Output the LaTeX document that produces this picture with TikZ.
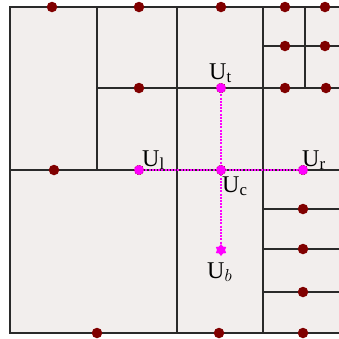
\documentclass[tikz,border=0pt]{standalone}
\usepackage{fontspec}
\setmainfont{Liberation Serif}
\usetikzlibrary{shapes.geometric}
\definecolor{bgc}{HTML}{F2EEED}
\definecolor{dotc}{HTML}{800000}
\definecolor{linec}{HTML}{2A2A2A}
\definecolor{mag}{HTML}{FF00FF}
\tikzset{
  cell/.style={draw=linec, line width=1.1pt},
  pt/.style={circle, fill=dotc, inner sep=0pt, minimum size=10.5pt},
  mpt/.style={circle, fill=mag, draw=dotc, dash pattern=on 1.2pt off 1.8pt, line width=0.35pt, inner sep=0pt, minimum size=10pt},
  star pt/.style={star, star points=6, fill=mag, inner sep=0pt, minimum size=12pt},
  link/.style={mag, dash pattern=on 2pt off 1.2pt, line width=1.3pt},
  lab/.style={font=\fontsize{24}{26}\selectfont, inner sep=0pt}
}
\begin{document}
\begin{tikzpicture}[x=1pt,y=-1pt]
\useasboundingbox (0,0) rectangle (339,338);
\begin{scope}
\clip (0,0) rectangle (339,338);
\fill[bgc] (10,7) rectangle (345,333);
\draw[cell] (10,7) rectangle (345,333);
% vertical lines
\draw[cell] (97,7) -- (97,170);
\draw[cell] (177,7) -- (177,333);
\draw[cell] (263,7) -- (263,333);
\draw[cell] (305,7) -- (305,88);
% horizontal lines
\draw[cell] (97,88) -- (345,88);
\draw[cell] (10,170) -- (345,170);
\draw[cell] (263,46) -- (345,46);
\draw[cell] (263,209) -- (345,209);
\draw[cell] (263,249) -- (345,249);
\draw[cell] (263,292) -- (345,292);
\end{scope}
% dots
\node[pt] (d1) at (52,7) {};
\node[pt] (d2) at (139,7) {};
\node[pt] (d3) at (221,7) {};
\node[pt] (d4) at (285,7) {};
\node[pt] (d5) at (325,7) {};
\node[pt] (d6) at (285,46) {};
\node[pt] (d7) at (325,46) {};
\node[pt] (d8) at (139,88) {};
\node[pt] (d9) at (285,88) {};
\node[pt] (d10) at (326,88) {};
\node[pt] (d11) at (54,170) {};
\node[pt] (d12) at (303,209) {};
\node[pt] (d13) at (303,249) {};
\node[pt] (d14) at (303,292) {};
\node[pt] (d15) at (97,333) {};
\node[pt] (d16) at (219,333) {};
\node[pt] (d17) at (303,333) {};
% special points
\coordinate (ut) at (221,88);
\coordinate (ul) at (139,170);
\coordinate (uc) at (221,170);
\coordinate (ur) at (303,170);
\coordinate (ub) at (221,250);
\draw[link] (ul) -- (ur);
\draw[link] (ut) -- (ub);
\node[mpt] (nt) at (ut) {};
\node[mpt] (nl) at (ul) {};
\node[mpt] (nc) at (uc) {};
\node[mpt] (nr) at (ur) {};
\node[star pt] (nb) at (ub) {};
% labels
\node[lab, anchor=base west] (lt) at (209,79) {U$_{\mathrm{t}}$};
\node[lab, anchor=base west] (ll) at (142,166) {U$_{\mathrm{l}}$};
\node[lab, anchor=base west] (lr) at (302,166) {U$_{\mathrm{r}}$};
\node[lab, anchor=base west] (lc) at (222,192) {U$_{\mathrm{c}}$};
\node[lab, anchor=base west] (lb) at (207,278) {U$_{b}$};
\end{tikzpicture}
\end{document}
